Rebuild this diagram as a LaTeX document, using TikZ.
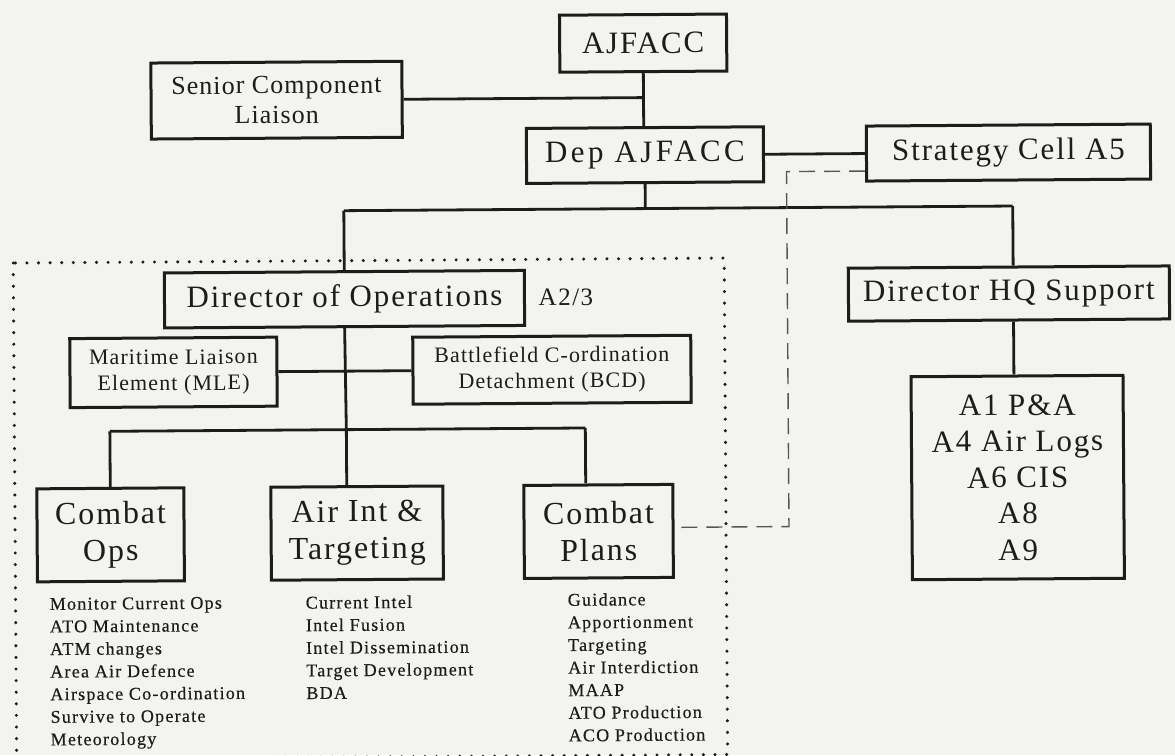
\documentclass[tikz,border=0pt]{standalone}
\usepackage{fontspec}
\setmainfont{Liberation Serif}
\definecolor{paper}{RGB}{243,243,240}
\definecolor{ink}{RGB}{28,28,28}
\definecolor{dashink}{RGB}{85,85,85}
\begin{document}
\begin{tikzpicture}[x=1pt,y=-1pt,
  box/.style={draw=ink, line width=3pt, inner sep=0pt, align=center, text=ink},
  link/.style={draw=ink, line width=2.8pt},
  dashlink/.style={draw=dashink, line width=1.4pt, dash pattern=on 16pt off 9pt},
  dotframe/.style={draw=ink, line width=3.4pt, line cap=round, dash pattern=on 0pt off 11.6pt},
  fontL/.style={font=\fontsize{31}{37}\selectfont\addfontfeature{LetterSpace=6}},
  fontW/.style={font=\fontsize{31}{37}\selectfont\addfontfeature{LetterSpace=11}},
  fontM/.style={font=\fontsize{26}{30}\selectfont\addfontfeature{LetterSpace=4}},
  fontS/.style={font=\fontsize{22}{26}\selectfont\addfontfeature{LetterSpace=5}},
  fontC/.style={font=\fontsize{32}{37}\selectfont\addfontfeature{LetterSpace=6}},
  fontA/.style={font=\fontsize{31}{36.2}\selectfont\addfontfeature{LetterSpace=6}},
  duties/.style={anchor=north west, inner sep=0pt, align=left, text=ink,
    font=\fontsize{18}{22.6}\selectfont\addfontfeature{LetterSpace=7,FakeBold=0.4}},
]
\useasboundingbox (0,0) rectangle (1175,755);
\fill[paper] (0,0) rectangle (1175,755);
\clip (0,0) rectangle (1175,755);

\begin{scope}[rotate around={0.4:(587,377)}, transform shape]

% command chain
\node[box, fontL, minimum width=167pt, minimum height=57pt] (ajf) at (645.5,43.5) {AJFACC};
\node[box, fontM, minimum width=251pt, minimum height=76pt] (senior) at (278.5,98) {Senior Component\\Liaison};
\node[box, fontW, minimum width=237pt, minimum height=55pt] (dep) at (646.5,155.5) {Dep AJFACC};
\node[box, fontL, minimum width=284pt, minimum height=55pt] (strat) at (1010,155.5) {Strategy Cell A5};

% operations branch
\node[box, fontL, minimum width=360pt, minimum height=55pt] (dirops) at (345,297.5) {Director of Operations};
\node[anchor=west, inner sep=0pt, text=ink, font=\fontsize{25}{30}\selectfont\addfontfeature{LetterSpace=6}] (a23) at (539,297.5) {A2/3};
\node[box, fontS, minimum width=207pt, minimum height=69pt] (mle) at (173.5,369.5) {Maritime Liaison\\Element (MLE)};
\node[box, fontS, minimum width=278pt, minimum height=67pt] (bcd) at (552,369.5) {Battlefield C-ordination\\Detachment (BCD)};
\node[box, fontC, minimum width=147pt, minimum height=93pt] (cops) at (109.5,531.5) {Combat\\Ops};
\node[box, fontC, minimum width=172pt, minimum height=93pt] (aint) at (356,531.5) {Air Int \&\\Targeting};
\node[box, fontC, minimum width=149pt, minimum height=93pt] (cplans) at (597.5,531.5) {Combat\\Plans};

% support branch
\node[box, fontL, minimum width=321pt, minimum height=53pt] (hq) at (1009.5,296.5) {Director HQ Support};
\node[box, fontA, minimum width=212pt, minimum height=203pt] (abox) at (1017,480.5) {A1 P\&A\\A4 Air Logs\\A6 CIS\\A8\\A9};

% duty lists under the cells
\node[duties] (copsList) at (48,594) {Monitor Current Ops\\ATO Maintenance\\ATM changes\\Area Air Defence\\Airspace Co-ordination\\Survive to Operate\\Meteorology};
\node[duties] (aintList) at (304,594) {Current Intel\\Intel Fusion\\Intel Dissemination\\Target Development\\BDA};
\node[duties] (cplansList) at (566,593) {Guidance\\Apportionment\\Targeting\\Air Interdiction\\MAAP\\ATO Production\\ACO Production};

% junction points of the trees
\coordinate (barL) at (345,209);
\coordinate (barR) at (1014,209);
\coordinate (opsL) at (109.5,428);
\coordinate (opsM) at (346,428);
\coordinate (opsR) at (585,428);
\coordinate (dashTop) at (788,173);
\coordinate (dashBot) at (788,528);

% connectors
\draw[link] (ajf.south) -- (ajf.south |- dep.north);
\draw[link] (senior.east) -- (senior.east -| ajf.south);
\draw[link] (dep.east) -- (strat.west);
\draw[link] (dep.south) -- (dep.south |- barL);
\draw[link] (barL) -- (barR);
\draw[link] (barL) -- (dirops.north);
\draw[link] (barR) -- (barR |- hq.north);
\draw[link] (barR |- hq.south) -- (barR |- abox.north);
\draw[link] (dirops.south) -- (opsM);
\draw[link] (mle.east) -- (bcd.west);
\draw[link] (opsL) -- (opsR);
\draw[link] (opsL) -- (cops.north);
\draw[link] (opsM) -- (opsM |- aint.north);
\draw[link] (opsR) -- (opsR |- cplans.north);
\draw[dashlink] (strat.west |- dashTop) -- (dashTop) -- (dashBot) -- (dashBot -| cplans.east);

% dotted frame round the operations division
\draw[dotframe] (14,259) rectangle (725,755.5);
\end{scope}
\end{tikzpicture}
\end{document}
